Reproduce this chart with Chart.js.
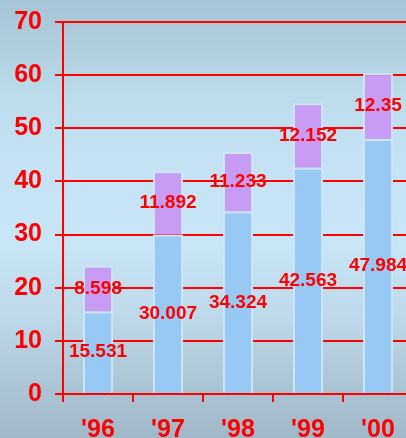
<!DOCTYPE html>
<html>
<head>
<meta charset="utf-8">
<script src="https://cdn.jsdelivr.net/npm/chart.js@4.4.0/dist/chart.umd.min.js"></script>
<style>
  html, body { margin:0; padding:0; overflow:hidden; width:406px; height:438px; }
  body { background: linear-gradient(to bottom, #a6c5d6 0%, #b2cfdf 12%, #bcdcec 22%, #c4e2f4 35%, #c8e6f6 55%, #bed9e9 72%, #acc5d5 88%, #a2b8c8 100%); }
  #wrap { position:absolute; left:0; top:0; width:420px; height:438px; }
</style>
</head>
<body>
<div id="wrap"><canvas id="c" width="420" height="438" style="width:420px;height:438px"></canvas></div>
<script>
const categories = ["'96", "'97", "'98", "'99", "'00"];
const baseValues = [15.531, 30.007, 34.324, 42.563, 47.984];
const topValues = [8.598, 11.892, 11.233, 12.152, 12.35];
const yTicks = [0, 10, 20, 30, 40, 50, 60, 70];

const RED = '#ff0000';

const labelPlugin = {
  id: 'segLabels',
  afterDatasetsDraw(chart) {
    const ctx = chart.ctx;
    ctx.save();
    ctx.font = 'bold 19px "Liberation Sans", Arial, sans-serif';
    ctx.fillStyle = RED;
    ctx.textAlign = 'center';
    ctx.textBaseline = 'middle';
    chart.data.datasets.forEach((ds, i) => {
      const meta = chart.getDatasetMeta(i);
      meta.data.forEach((bar, j) => {
        const cy = (bar.y + bar.base) / 2;
        ctx.fillText(String(ds.data[j]), bar.x, cy);
      });
    });
    ctx.restore();
  }
};

new Chart(document.getElementById('c'), {
  type: 'bar',
  data: {
    labels: categories,
    datasets: [
      { data: baseValues, backgroundColor: '#98c8f4', borderColor: '#cce6fa', borderWidth: 2,
        barPercentage: 0.43, categoryPercentage: 1 },
      { data: topValues, backgroundColor: '#c89cf4', borderColor: '#cce6fa', borderWidth: 2,
        barPercentage: 0.43, categoryPercentage: 1 }
    ]
  },
  options: {
    responsive: false,
    animation: false,
    layout: { padding: { top: 22, right: 7, left: 0, bottom: 0 } },
    plugins: { legend: { display: false }, tooltip: { enabled: false } },
    scales: {
      x: {
        stacked: true,
        afterFit: s => { s.height = 44; },
        grid: { display: true, drawOnChartArea: false, drawTicks: true, tickLength: 8, color: RED, lineWidth: 2, offset: true },
        border: { color: RED, width: 2 },
        ticks: { color: RED, padding: 13, font: { family: '"Liberation Sans", Arial, sans-serif', size: 25, weight: 'bold' } }
      },
      y: {
        stacked: true,
        min: yTicks[0], max: yTicks[yTicks.length - 1],
        afterFit: s => { s.width = 63; s.paddingTop = 0; s.paddingBottom = 0; },
        afterBuildTicks: s => { s.ticks = yTicks.map(v => ({ value: v })); },
        grid: { color: RED, lineWidth: 2, tickLength: 8 },
        border: { color: RED, width: 2 },
        ticks: { color: RED, padding: 13, font: { family: '"Liberation Sans", Arial, sans-serif', size: 25, weight: 'bold', lineHeight: 0.5 } }
      }
    }
  },
  plugins: [labelPlugin]
});
</script>
</body>
</html>
